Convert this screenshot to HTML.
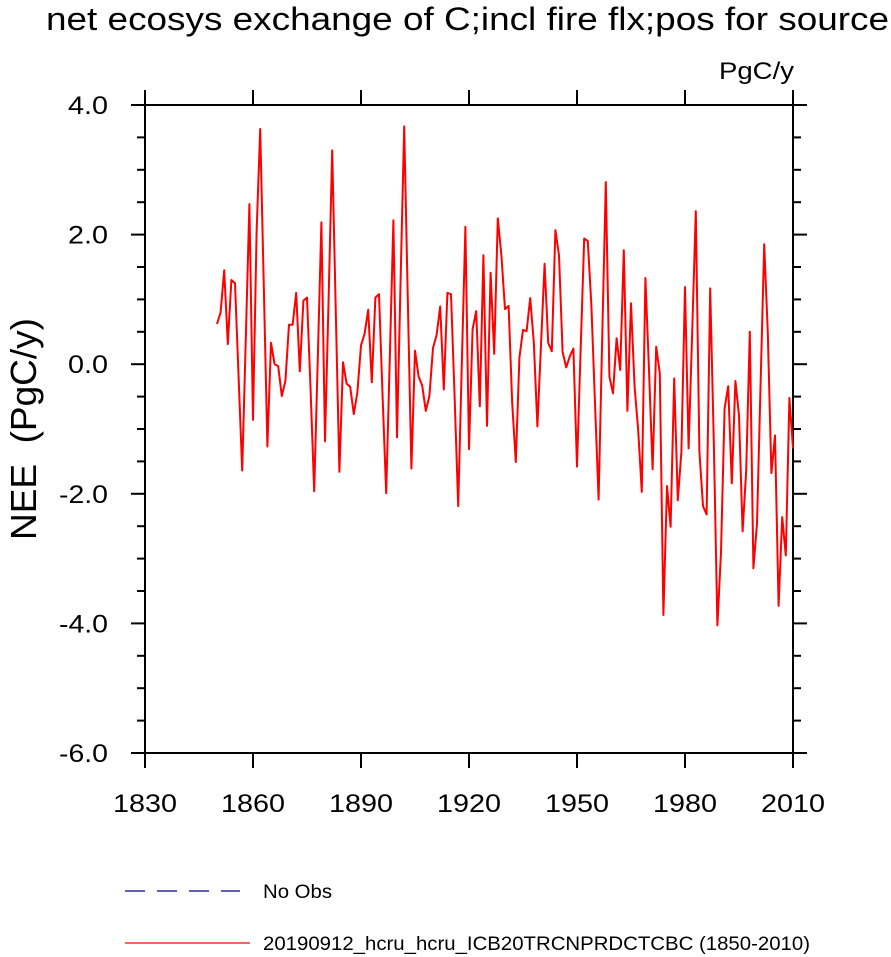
<!DOCTYPE html>
<html><head><meta charset="utf-8"><style>
body{margin:0;background:#fff;}
svg{display:block;font-family:"Liberation Sans",Arial,sans-serif;}
</style></head><body>
<svg id="chart" width="891" height="957" viewBox="0 0 891 957" xmlns="http://www.w3.org/2000/svg">
<text x="46" y="30" font-size="32" textLength="843" lengthAdjust="spacingAndGlyphs">net ecosys exchange of C;incl fire flx;pos for source</text>
<text x="719" y="79" font-size="24" textLength="75" lengthAdjust="spacingAndGlyphs">PgC/y</text>
<text xml:space="preserve" transform="translate(36,429) rotate(-90)" font-size="36" text-anchor="middle" textLength="222" lengthAdjust="spacingAndGlyphs">NEE  (PgC/y)</text>
<g id="axes"></g>
<g id="series"></g>
<g>
<line x1="125" y1="891" x2="240" y2="891" stroke="#00008b" stroke-width="1.2" stroke-dasharray="20,12"/>
<text x="263" y="898" font-size="19" textLength="69" lengthAdjust="spacingAndGlyphs">No Obs</text>
<line x1="125" y1="943" x2="250" y2="943" stroke="#ff0000" stroke-width="1.2"/>
<text x="263" y="950" font-size="19" textLength="547" lengthAdjust="spacingAndGlyphs">20190912_hcru_hcru_ICB20TRCNPRDCTCBC (1850-2010)</text>
</g>
</svg>
<script>
const years = [];
for (let y = 1850; y <= 2010; y++) years.push(y);
const nee = [0.62,0.80,1.45,0.31,1.30,1.25,-0.2,-1.64,0.4,2.47,
-0.86,2.04,3.63,1.2,-1.27,0.33,0.0,-0.03,-0.49,-0.26,
0.61,0.61,1.10,-0.11,0.98,1.03,-0.4,-1.96,0.1,2.19,
-1.19,1.0,3.30,0.8,-1.66,0.03,-0.30,-0.35,-0.77,-0.43,
0.29,0.47,0.84,-0.28,1.03,1.08,-0.5,-1.99,0.1,2.22,
-1.13,1.3,3.67,1.0,-1.61,0.21,-0.19,-0.33,-0.72,-0.49,
0.25,0.45,0.89,-0.39,1.10,1.08,-0.5,-2.19,0.0,2.12,
-1.31,0.54,0.82,-0.65,1.68,-0.95,1.41,0.16,2.25,1.68,
0.85,0.90,-0.6,-1.51,0.10,0.53,0.51,1.02,0.34,-0.96,
0.3,1.55,0.33,0.20,2.07,1.68,0.19,-0.05,0.12,0.24,
-1.58,0.2,1.94,1.90,0.9,-0.6,-2.09,0.4,2.81,-0.19,
-0.45,0.40,-0.09,1.76,-0.72,0.94,-0.35,-1.02,-1.97,1.33,
-0.09,-1.62,0.27,-0.14,-3.87,-1.88,-2.51,-0.22,-2.10,-1.35,
1.19,-1.30,0.5,2.36,-1.35,-2.19,-2.32,1.17,-1.2,-4.03,
-2.9,-0.68,-0.34,-1.84,-0.26,-0.79,-2.58,-1.64,0.50,-3.15,
-2.46,-0.3,1.85,0.48,-1.68,-1.10,-3.73,-2.36,-2.95,-0.52,-1.3];
const yTicks = [4,2,0,-2,-4,-6];
const yTickLabels = ["4.0","2.0","0.0","-2.0","-4.0","-6.0"];
const xTicks = [1830,1860,1890,1920,1950,1980,2010];
const NS = "http://www.w3.org/2000/svg";
const X0 = 145, X1 = 793, Y0 = 105, Y1 = 753;
const xs = v => X0 + (v - 1830) / 180 * (X1 - X0);
const ys = v => Y0 + (4 - v) / 10 * (Y1 - Y0);
function mk(tag, attrs, parent) {
  const e = document.createElementNS(NS, tag);
  for (const k in attrs) e.setAttribute(k, attrs[k]);
  parent.appendChild(e);
  return e;
}
const ax = document.getElementById("axes");
const A = {stroke:"#000","stroke-width":2};
let f = mk("rect", {x:X0,y:Y0,width:X1-X0,height:Y1-Y0,fill:"none",stroke:"#000","stroke-width":2}, ax);


for (let v = 4; v >= -6; v -= 0.5) {
  const major = Math.abs(v - Math.round(v / 2) * 2) < 1e-6;
  const len = major ? 14 : 8;
  const y = ys(v);
  let t = mk("line", Object.assign({x1:X0-len,x2:X0,y1:y,y2:y}, A), ax);
  
  
  let t2 = mk("line", Object.assign({x1:X1,x2:X1+len,y1:y,y2:y}, A), ax);
  
  
}
yTicks.forEach((v, i) => {
  const lab = yTickLabels[i];
  const t = mk("text", {x:108,y:ys(v)+9,"font-size":25,"text-anchor":"end",textLength:(lab.length===3?40:49),lengthAdjust:"spacingAndGlyphs"}, ax);
  t.textContent = lab;
  
  
});
xTicks.forEach(v => {
  const x = xs(v);
  let t = mk("line", Object.assign({x1:x,x2:x,y1:Y1,y2:Y1+15}, A), ax);
  
  
  let t2 = mk("line", Object.assign({x1:x,x2:x,y1:Y0-15,y2:Y0}, A), ax);
  
  
  const l = mk("text", {x:x,y:Y1+59,"font-size":25,"text-anchor":"middle",textLength:64,lengthAdjust:"spacingAndGlyphs"}, ax);
  l.textContent = String(v);
  
  
});
const s = document.getElementById("series");
const pts = years.map((yr, i) => xs(yr).toFixed(1) + "," + ys(nee[i]).toFixed(1)).join(" ");
const pl = mk("polyline", {points:pts,fill:"none",stroke:"#ff0000","stroke-width":2,"stroke-linejoin":"round"}, s);


</script>
</body></html>
